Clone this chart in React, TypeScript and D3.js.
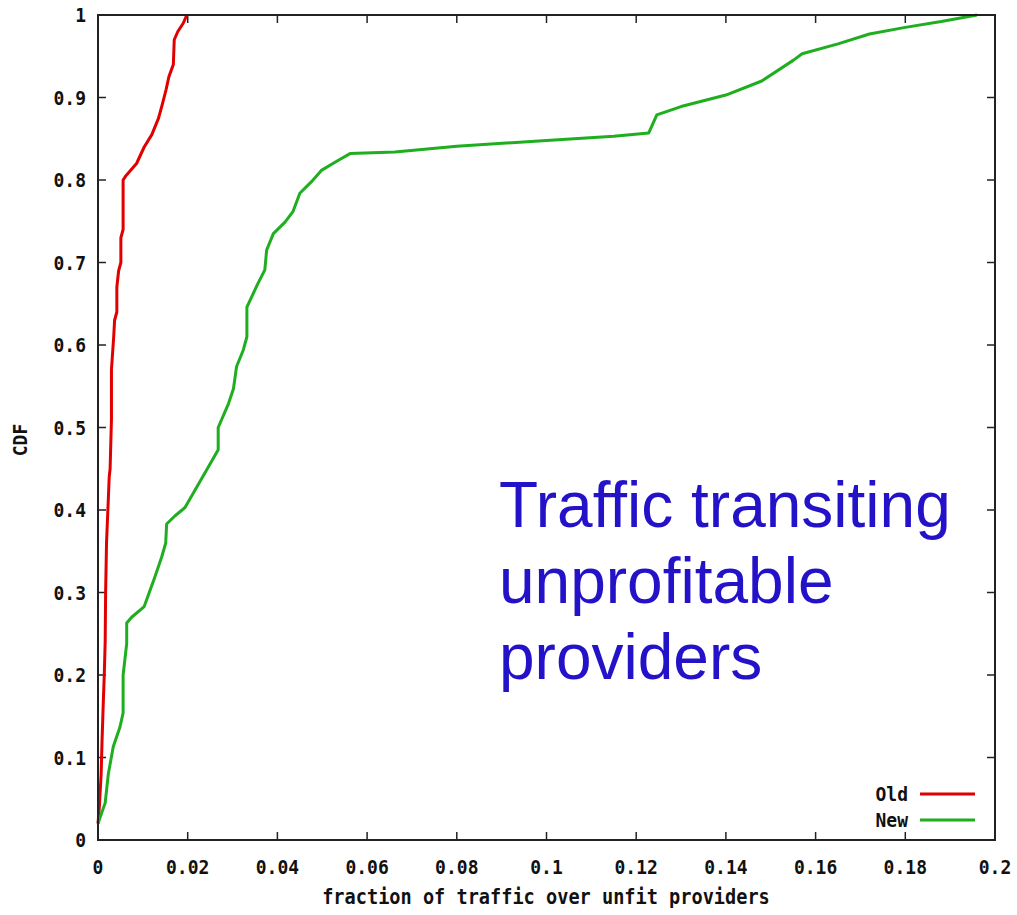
import React from "react";
import * as d3 from "d3";

const xTicks = [0, 0.02, 0.04, 0.06, 0.08, 0.1, 0.12, 0.14, 0.16, 0.18, 0.2];
const xTickLabels = ["0", "0.02", "0.04", "0.06", "0.08", "0.1", "0.12", "0.14", "0.16", "0.18", "0.2"];
const yTicks = [0, 0.1, 0.2, 0.3, 0.4, 0.5, 0.6, 0.7, 0.8, 0.9, 1];
const yTickLabels = ["0", "0.1", "0.2", "0.3", "0.4", "0.5", "0.6", "0.7", "0.8", "0.9", "1"];

const seriesNames = ["Old", "New"];

const oldCurve: [number, number][] = [
  [0, 0.02], [0.0003, 0.04], [0.0007, 0.08], [0.0009, 0.12], [0.0012, 0.17], [0.0014, 0.2],
  [0.0016, 0.24], [0.0017, 0.3], [0.0019, 0.36], [0.0022, 0.4], [0.0025, 0.44], [0.0027, 0.45],
  [0.0029, 0.49], [0.003, 0.51], [0.003, 0.57], [0.0035, 0.61], [0.0037, 0.63], [0.0042, 0.64],
  [0.0042, 0.67], [0.0046, 0.69], [0.0051, 0.7], [0.0051, 0.73], [0.0056, 0.74], [0.0056, 0.8],
  [0.0062, 0.805], [0.007, 0.81], [0.0086, 0.82], [0.0103, 0.84], [0.012, 0.855], [0.0135, 0.875],
  [0.0145, 0.895], [0.0152, 0.91], [0.0158, 0.925], [0.0168, 0.94], [0.017, 0.97], [0.0178, 0.98],
  [0.019, 0.99], [0.0198, 1.0],
];

const newCurve: [number, number][] = [
  [0, 0.02], [0.0016, 0.045], [0.0023, 0.08], [0.0034, 0.113], [0.0049, 0.137], [0.0056, 0.154],
  [0.0056, 0.2], [0.0064, 0.238], [0.0064, 0.263], [0.0075, 0.27], [0.0103, 0.283], [0.0127, 0.319],
  [0.0142, 0.343], [0.0151, 0.36], [0.0153, 0.383], [0.0172, 0.393], [0.0194, 0.403], [0.0246, 0.452],
  [0.0268, 0.473], [0.0268, 0.5], [0.0291, 0.529], [0.0302, 0.547], [0.0309, 0.574], [0.0324, 0.594],
  [0.0332, 0.61], [0.0332, 0.646], [0.0357, 0.675], [0.0372, 0.691], [0.0376, 0.715], [0.0391, 0.735],
  [0.0417, 0.749], [0.0435, 0.762], [0.045, 0.784], [0.0476, 0.798], [0.0499, 0.812], [0.0536, 0.824],
  [0.0562, 0.832], [0.0662, 0.834], [0.08, 0.841], [0.1, 0.848], [0.115, 0.853], [0.1228, 0.857],
  [0.1246, 0.879], [0.13, 0.889], [0.14, 0.903], [0.148, 0.92], [0.155, 0.945], [0.157, 0.953],
  [0.165, 0.965], [0.172, 0.977], [0.18, 0.985], [0.188, 0.992], [0.196, 1.0],
];

const annotationLines = ["Traffic transiting", "unprofitable", "providers"];

const W = 1017;
const H = 915;
const L = 98, R = 995, T = 15, B = 840;
const mono = "'DejaVu Sans Mono', 'Liberation Mono', monospace";
const colors = ["#e00000", "#1fae1f"];

function MonoText(props: { x: number; y: number; anchor: string; size?: number; children: React.ReactNode }) {
  const { x, y, anchor, size = 18, children } = props;
  return (
    <text
      transform={`translate(${x},${y}) scale(1,1.12)`}
      textAnchor={anchor}
      fontFamily={mono}
      fontWeight="bold"
      fontSize={size}
      fill="#111"
    >
      {children}
    </text>
  );
}

export default function App() {
  const x = d3.scaleLinear().domain([0, 0.2]).range([L, R]);
  const y = d3.scaleLinear().domain([0, 1]).range([B, T]);
  const line = d3.line<[number, number]>().x((d) => x(d[0])).y((d) => y(d[1])).curve(d3.curveLinear);
  const tick = 8;
  return (
    <svg width={W} height={H} style={{ position: "absolute", left: 0, top: 0, background: "#fff" }}>
      {xTicks.map((v, i) => (
        <g key={"xt" + i}>
          <line x1={x(v)} x2={x(v)} y1={B} y2={B - tick} stroke="#222" strokeWidth={1.5} />
          <line x1={x(v)} x2={x(v)} y1={T} y2={T + tick} stroke="#222" strokeWidth={1.5} />
          <MonoText x={x(v)} y={874} anchor="middle">{xTickLabels[i]}</MonoText>
        </g>
      ))}
      {yTicks.map((v, i) => (
        <g key={"yt" + i}>
          <line x1={L} x2={L + tick} y1={y(v)} y2={y(v)} stroke="#222" strokeWidth={1.5} />
          <line x1={R} x2={R - tick} y1={y(v)} y2={y(v)} stroke="#222" strokeWidth={1.5} />
          <MonoText x={86} y={y(v) + 7} anchor="end">{yTickLabels[i]}</MonoText>
        </g>
      ))}
      <path d={line(oldCurve) || ""} fill="none" stroke={colors[0]} strokeWidth={3} strokeLinejoin="round" />
      <path d={line(newCurve) || ""} fill="none" stroke={colors[1]} strokeWidth={3} strokeLinejoin="round" />
      <rect x={L} y={T} width={R - L} height={B - T} fill="none" stroke="#222" strokeWidth={2} />
      {seriesNames.map((n, i) => (
        <g key={n}>
          <MonoText x={908} y={801 + i * 26} anchor="end">{n}</MonoText>
          <line x1={920} x2={975} y1={794 + i * 26} y2={794 + i * 26} stroke={colors[i]} strokeWidth={3} />
        </g>
      ))}
      <MonoText x={546} y={904} anchor="middle" size={18.6}>fraction of traffic over unfit providers</MonoText>
      <text transform="translate(27,440) rotate(-90) scale(1,1.12)" textAnchor="middle" fontFamily={mono} fontWeight="bold" fontSize={18} fill="#111">
        CDF
      </text>
      {annotationLines.map((t, i) => (
        <text key={t} x={499} y={527 + i * 76} fontFamily="'Liberation Sans', Arial, sans-serif" fontSize={64} fill="#2412c8">
          {t}
        </text>
      ))}
    </svg>
  );
}
